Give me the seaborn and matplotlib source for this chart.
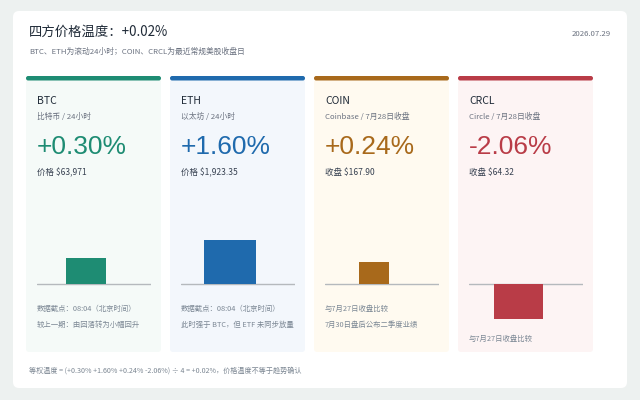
import matplotlib
matplotlib.use("Agg")
import matplotlib.pyplot as plt
from matplotlib.patches import FancyBboxPatch
import seaborn as sns

# ---- data ----
names = ["BTC", "ETH", "COIN", "CRCL"]
subtitles = ["比特币 / 24小时", "以太坊 / 24小时", "Coinbase / 7月28日收盘", "Circle / 7月28日收盘"]
changes = [0.30, 1.60, 0.24, -2.06]
price_labels = ["价格", "价格", "收盘", "收盘"]
prices = ["$63,971", "$1,923.35", "$167.90", "$64.32"]
notes = [
    ["数据截点：08:04（北京时间）", "较上一期：由回落转为小幅回升"],
    ["数据截点：08:04（北京时间）", "此时强于 BTC，但 ETF 未同步放量"],
    ["与7月27日收盘比较", "7月30日盘后公布二季度业绩"],
    ["与7月27日收盘比较"],
]
date_label = "2026.07.29"
header_note = "BTC、ETH为滚动24小时；COIN、CRCL为最近常规美股收盘日"

# ---- style ----
colors = ["#1e8c73", "#1f6aad", "#a8691b", "#b93c47"]
card_bg = ["#f5faf8", "#f3f7fc", "#fffaf0", "#fdf4f4"]
bar_widths = [0.70, 0.91, 0.51, 0.86]
bar_ymax = [0.62, 1.96, 0.60, 3.18]
note_y = [309, 309, 309, 339]

sns.set_theme(style="white")
cjk = ["Noto Sans CJK SC", "DejaVu Sans"]
num_font = ["Liberation Sans", "DejaVu Sans"]
plt.rcParams["font.family"] = cjk

W, H = 640, 400
fig = plt.figure(figsize=(6.4, 4.0), dpi=100)
fig.patch.set_facecolor("#edf1f0")

bg = fig.add_axes([0, 0, 1, 1])
bg.set_xlim(0, W)
bg.set_ylim(H, 0)
bg.axis("off")

bg.add_patch(FancyBboxPatch((13, 11), 614, 377, boxstyle="round,pad=0,rounding_size=6",
                            facecolor="white", edgecolor="none"))

temp = sum(changes) / len(changes)
bg.text(29, 32, f"四方价格温度：{temp:+.2f}%", fontsize=9.6, color="#1f2a37", va="center")
bg.text(611, 34, date_label, fontsize=5.6, color="#6b7280", va="center", ha="right")
bg.text(29, 52, header_note, fontsize=5.6, color="#6b7280", va="center")

for i, name in enumerate(names):
    x0 = 26 + i * 144
    bg.add_patch(FancyBboxPatch((x0, 78), 135, 274, boxstyle="round,pad=0,rounding_size=3",
                                facecolor=card_bg[i], edgecolor="none"))
    bg.add_patch(FancyBboxPatch((x0, 76), 135, 4.5, boxstyle="round,pad=0,rounding_size=2.2",
                                facecolor=colors[i], edgecolor="none"))
    tx = x0 + 11
    bg.text(tx, 100.5, name, fontsize=7.5, color="#1f2a37", va="center")
    bg.text(tx, 117, subtitles[i], fontsize=5.6, color="#6b7280", va="center")
    bg.text(tx, 147, f"{changes[i]:+.2f}%", fontsize=19, color=colors[i], va="center",
            family=num_font, fontweight="light")
    bg.text(tx, 173, f"{price_labels[i]} {prices[i]}", fontsize=6.1, color="#374151", va="center")
    for j, line in enumerate(notes[i]):
        bg.text(tx, note_y[i] + j * 16, line, fontsize=5.3, color="#7b8794", va="center")

    # bar panel
    ax = fig.add_axes([tx / W, 1 - 330 / H, 114 / W, 100 / H])
    ax.set_facecolor("none")
    sns.barplot(x=[name], y=[changes[i]], color=colors[i], width=bar_widths[i],
                saturation=1, linewidth=0, ax=ax)
    ax.axhline(0, color="#b5b9bd", lw=1, zorder=0)
    ax.set_xlim(-0.86, 1.14)
    ax.set_ylim(-bar_ymax[i] * 46 / 54, bar_ymax[i])
    ax.axis("off")

parts = " ".join(f"{c:+.2f}%" for c in changes)
footer = f"等权温度 = ({parts}) ÷ {len(changes)} = {temp:+.2f}%，价格温度不等于趋势确认"
bg.text(29, 371, footer, fontsize=5.1, color="#7a8591", va="center")

fig.savefig("out.png", dpi=100, facecolor=fig.get_facecolor())
